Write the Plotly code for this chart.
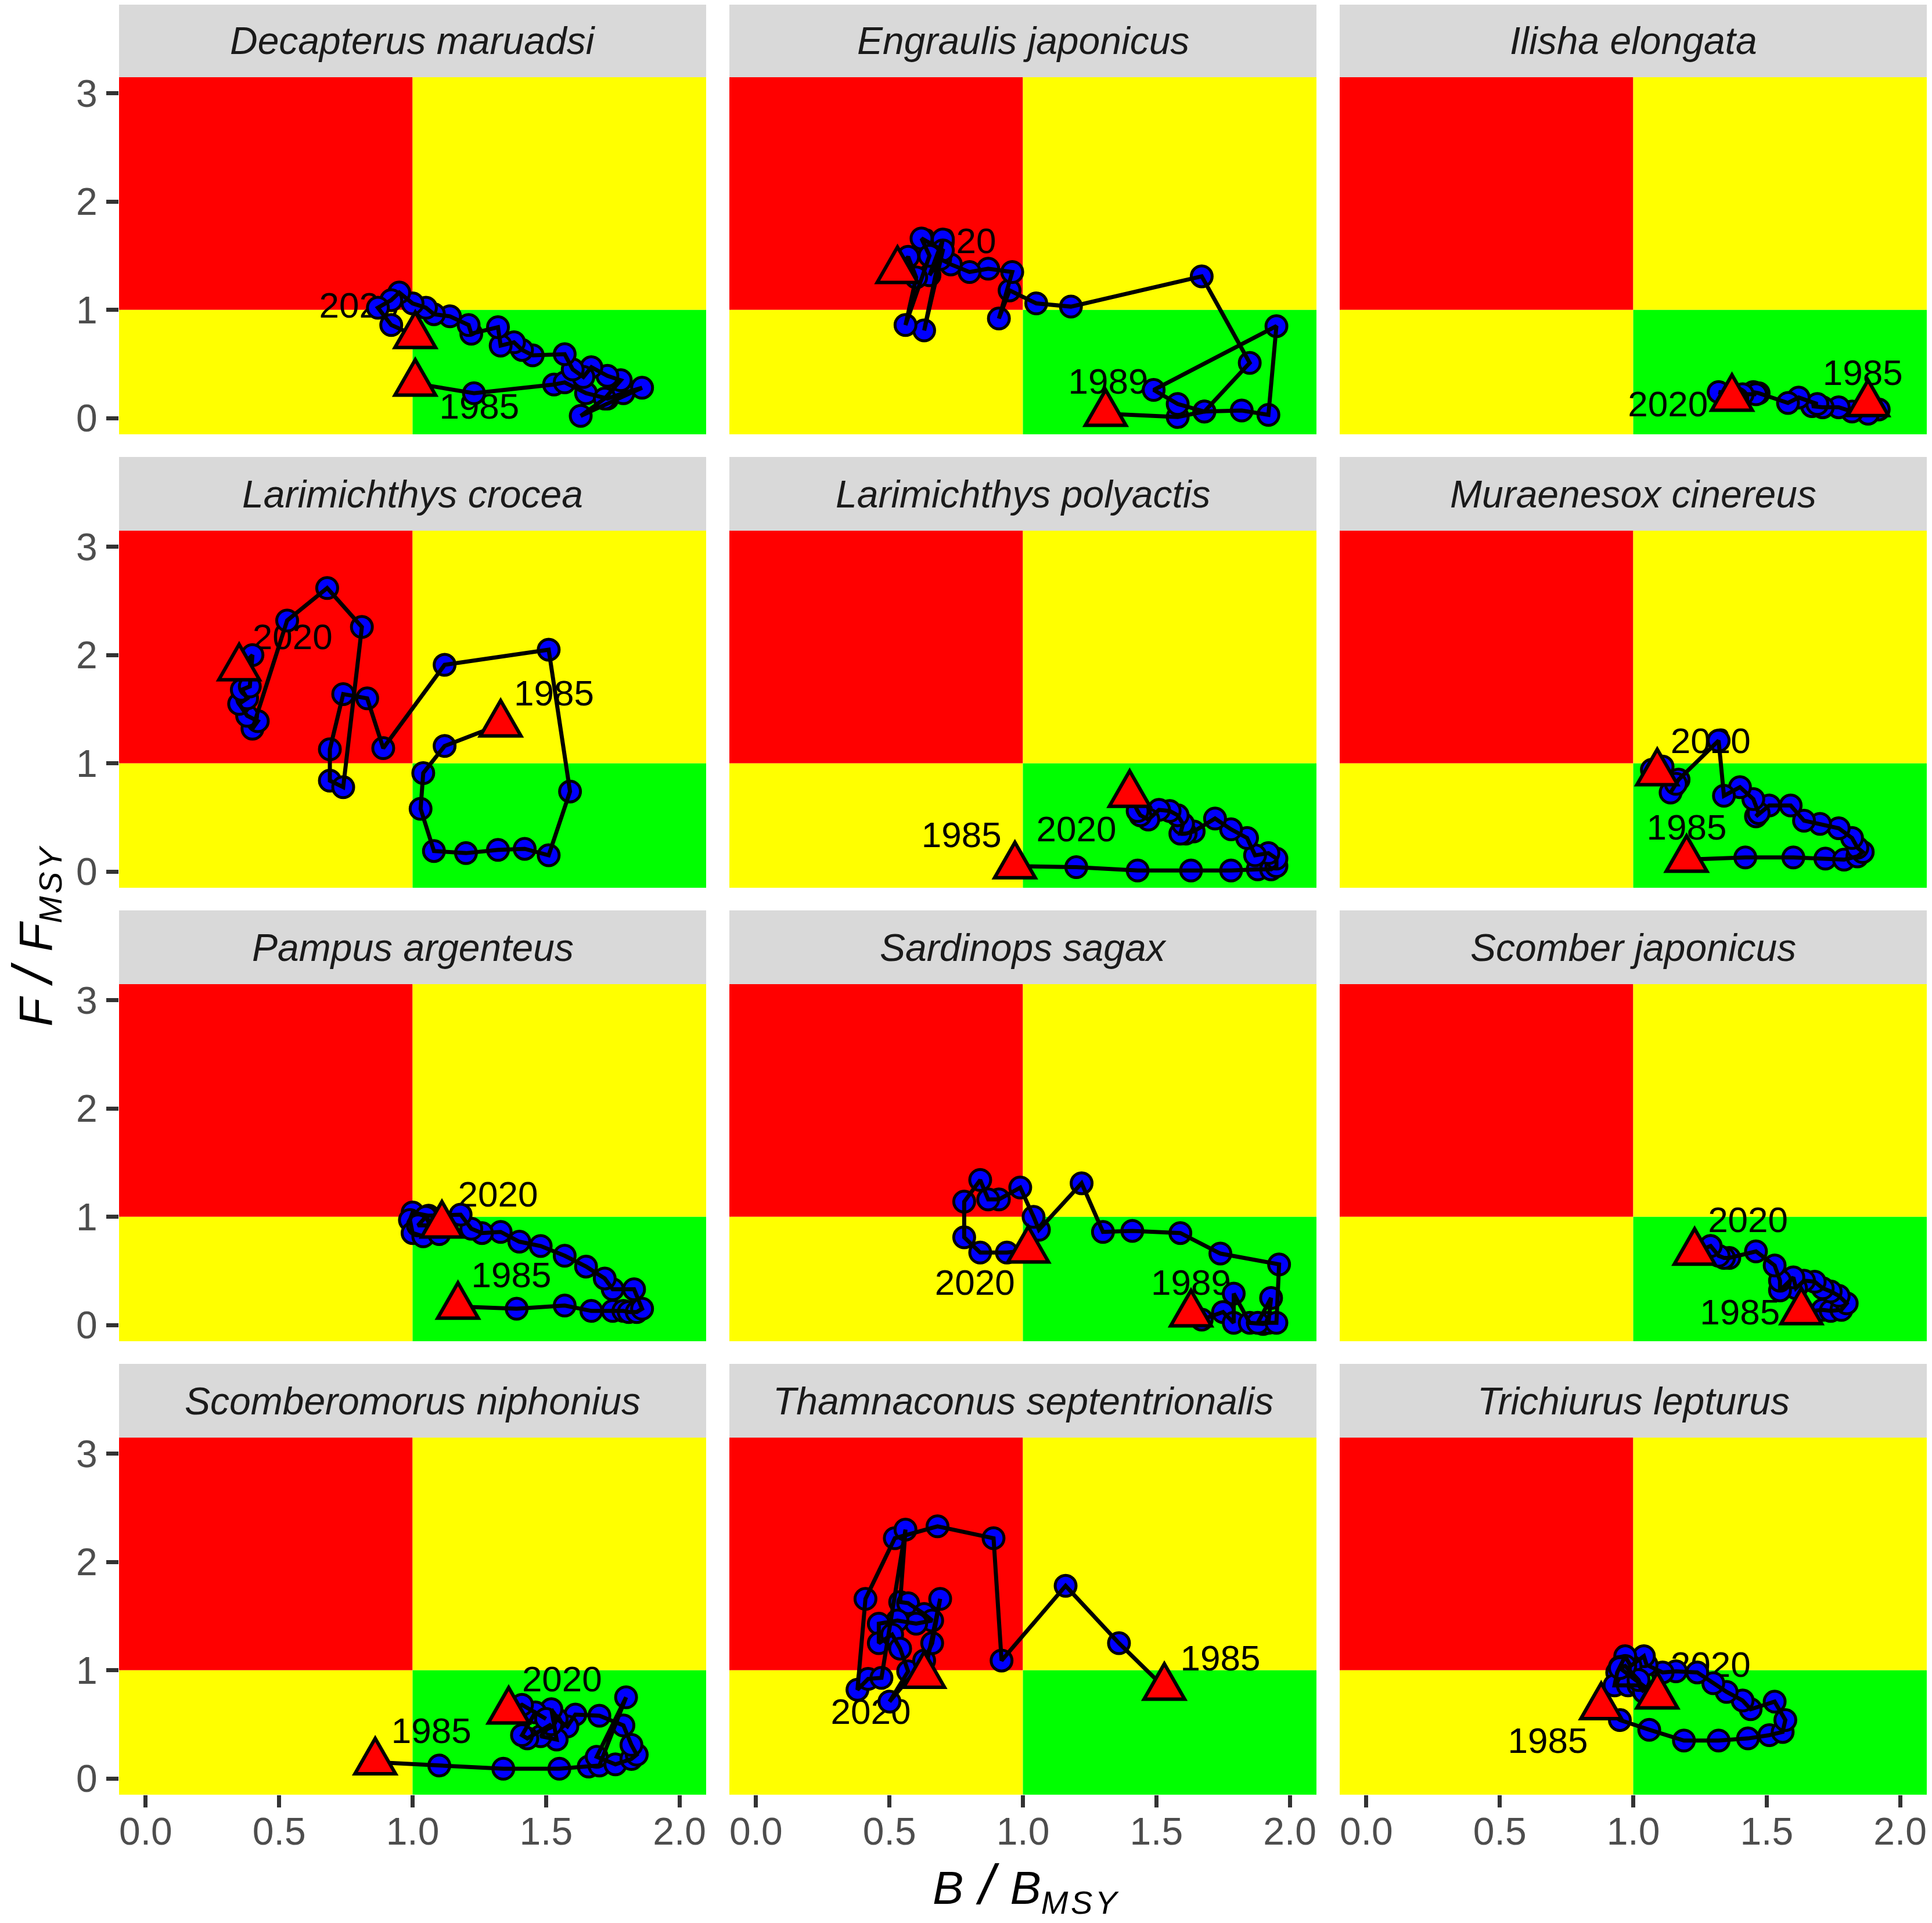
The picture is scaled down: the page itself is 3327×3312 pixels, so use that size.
import plotly.graph_objects as go
from plotly.subplots import make_subplots

# values, B/Bmsy and F/Fmsy per species
species = ["Decapterus maruadsi", "Engraulis japonicus", "Ilisha elongata",
           "Larimichthys crocea", "Larimichthys polyactis", "Muraenesox cinereus",
           "Pampus argenteus", "Sardinops sagax", "Scomber japonicus",
           "Scomberomorus niphonius", "Thamnaconus septentrionalis", "Trichiurus lepturus"]

decapterus_b = [1.01, 1.23, 1.53, 1.57, 1.65, 1.73, 1.79, 1.86, 1.63, 1.72, 1.78, 1.73, 1.67, 1.64, 1.60, 1.57,
                1.45, 1.41, 1.38, 1.33, 1.32, 1.22, 1.21, 1.14, 1.08, 1.05, 1.00, 0.95, 0.92, 0.87, 0.92, 1.01]
decapterus_f = [0.32, 0.23, 0.31, 0.33, 0.23, 0.18, 0.23, 0.28, 0.02, 0.18, 0.35, 0.39, 0.47, 0.38, 0.45, 0.59,
                0.58, 0.63, 0.70, 0.67, 0.84, 0.78, 0.86, 0.94, 0.96, 1.02, 1.06, 1.16, 1.09, 1.02, 0.86, 0.76]

engraulis_b = [1.31, 1.58, 1.68, 1.82, 1.92, 1.95, 1.49, 1.58, 1.68, 1.85, 1.67, 1.18, 1.05, 0.95, 0.91, 0.96,
               0.87, 0.80, 0.73, 0.69, 0.65, 0.70, 0.63, 0.70, 0.62, 0.65, 0.56, 0.60, 0.57, 0.53]
engraulis_f = [0.04, 0.01, 0.06, 0.07, 0.03, 0.85, 0.26, 0.13, 0.06, 0.51, 1.31, 1.03, 1.06, 1.18, 0.92, 1.35,
               1.38, 1.35, 1.42, 1.47, 1.32, 1.65, 0.81, 1.55, 1.66, 1.50, 0.86, 1.30, 1.49, 1.36]

ilisha_b = [1.88, 1.92, 1.88, 1.82, 1.77, 1.71, 1.67, 1.69, 1.62, 1.58, 1.47, 1.45, 1.46, 1.41, 1.32, 1.39, 1.37]
ilisha_f = [0.13, 0.08, 0.04, 0.06, 0.10, 0.10, 0.11, 0.13, 0.19, 0.14, 0.23, 0.24, 0.22, 0.22, 0.24, 0.18, 0.18]

crocea_b = [1.33, 1.12, 1.04, 1.03, 1.08, 1.20, 1.32, 1.42, 1.51, 1.59, 1.51, 1.12, 0.89, 0.83, 0.74, 0.69, 0.69,
            0.74, 0.81, 0.68, 0.53, 0.40, 0.42, 0.38, 0.35, 0.38, 0.36, 0.39, 0.40, 0.35]
crocea_f = [1.36, 1.16, 0.91, 0.58, 0.19, 0.17, 0.20, 0.21, 0.15, 0.74, 2.05, 1.91, 1.14, 1.60, 1.64, 1.13, 0.84,
            0.78, 2.26, 2.62, 2.32, 1.32, 1.39, 1.44, 1.55, 1.60, 1.68, 1.71, 2.00, 1.88]

polyactis_b = [0.97, 1.20, 1.43, 1.63, 1.78, 1.88, 1.93, 1.95, 1.95, 1.92, 1.87, 1.84, 1.78, 1.72, 1.64, 1.61,
               1.59, 1.60, 1.58, 1.55, 1.51, 1.47, 1.44, 1.43, 1.40]
polyactis_f = [0.05, 0.04, 0.01, 0.01, 0.01, 0.02, 0.02, 0.05, 0.12, 0.17, 0.15, 0.31, 0.39, 0.49, 0.37, 0.35,
               0.35, 0.44, 0.52, 0.56, 0.57, 0.48, 0.52, 0.56, 0.71]

muraenesox_b = [1.20, 1.42, 1.60, 1.72, 1.79, 1.84, 1.86, 1.84, 1.82, 1.77, 1.70, 1.64, 1.59, 1.51, 1.46, 1.47,
                1.45, 1.40, 1.34, 1.32, 1.17, 1.15, 1.14, 1.16, 1.11, 1.07, 1.09]
muraenesox_f = [0.11, 0.13, 0.13, 0.12, 0.11, 0.14, 0.18, 0.22, 0.31, 0.40, 0.44, 0.47, 0.61, 0.61, 0.51, 0.54,
                0.67, 0.78, 0.70, 1.21, 0.85, 0.78, 0.73, 0.81, 0.97, 0.94, 0.91]

pampus_b = [1.17, 1.39, 1.57, 1.67, 1.75, 1.79, 1.81, 1.84, 1.86, 1.83, 1.75, 1.72, 1.65, 1.57, 1.48, 1.40, 1.33,
            1.26, 1.22, 1.18, 1.06, 1.00, 0.99, 1.00, 1.04, 1.10, 1.05, 1.02, 1.11]
pampus_f = [0.17, 0.15, 0.18, 0.13, 0.13, 0.13, 0.12, 0.12, 0.15, 0.33, 0.33, 0.43, 0.54, 0.64, 0.73, 0.77, 0.86,
            0.85, 0.89, 1.02, 1.01, 1.04, 0.97, 0.85, 0.82, 0.84, 1.00, 0.92, 0.92]

sardinops_b = [1.63, 1.67, 1.75, 1.79, 1.79, 1.85, 1.90, 1.92, 1.93, 1.88, 1.95, 1.96, 1.74, 1.59, 1.41, 1.30,
               1.22, 1.06, 1.04, 0.99, 0.91, 0.87, 0.84, 0.78, 0.78, 0.84, 0.94, 1.02]
sardinops_f = [0.10, 0.05, 0.12, 0.02, 0.29, 0.02, 0.01, 0.02, 0.25, 0.02, 0.02, 0.56, 0.66, 0.85, 0.87, 0.86,
               1.31, 0.88, 1.00, 1.27, 1.16, 1.16, 1.34, 1.14, 0.81, 0.67, 0.67, 0.69]

scomber_b = [1.63, 1.71, 1.74, 1.78, 1.80, 1.77, 1.74, 1.71, 1.68, 1.64, 1.61, 1.60, 1.55, 1.55, 1.53, 1.46,
             1.36, 1.34, 1.32, 1.29, 1.29, 1.23]
scomber_f = [0.12, 0.14, 0.13, 0.14, 0.20, 0.27, 0.31, 0.34, 0.40, 0.41, 0.34, 0.44, 0.32, 0.41, 0.55, 0.68,
             0.62, 0.62, 0.64, 0.73, 0.73, 0.67]

niphonius_b = [0.86, 1.10, 1.34, 1.55, 1.66, 1.70, 1.80, 1.69, 1.76, 1.82, 1.84, 1.82, 1.79, 1.70, 1.61, 1.58,
               1.54, 1.52, 1.54, 1.48, 1.52, 1.43, 1.41, 1.46, 1.50, 1.41, 1.36]
niphonius_f = [0.15, 0.12, 0.09, 0.09, 0.11, 0.12, 0.75, 0.20, 0.13, 0.18, 0.22, 0.31, 0.49, 0.58, 0.59, 0.48,
               0.55, 0.64, 0.36, 0.39, 0.50, 0.37, 0.40, 0.61, 0.55, 0.68, 0.62]

thamnaconus_b = [1.53, 1.36, 1.16, 0.92, 0.89, 0.68, 0.52, 0.41, 0.38, 0.42, 0.47, 0.56, 0.54, 0.57, 0.63, 0.66,
                 0.60, 0.53, 0.46, 0.46, 0.51, 0.54, 0.57, 0.50, 0.63, 0.66, 0.69, 0.63]
thamnaconus_f = [0.84, 1.25, 1.78, 1.09, 2.22, 2.33, 2.22, 1.66, 0.82, 0.92, 0.93, 2.30, 1.63, 1.62, 1.52, 1.46,
                 1.43, 1.46, 1.43, 1.25, 1.33, 1.20, 0.99, 0.71, 1.09, 1.25, 1.66, 0.95]

trichiurus_b = [0.88, 0.95, 1.06, 1.19, 1.32, 1.43, 1.51, 1.56, 1.57, 1.53, 1.44, 1.41, 1.35, 1.30, 1.24, 1.16, 1.11,
                1.05, 1.04, 0.99, 0.97, 0.95, 0.94, 0.93, 0.98, 1.02, 1.04, 1.02, 0.97, 0.95, 1.09]
trichiurus_f = [0.66, 0.54, 0.45, 0.35, 0.35, 0.37, 0.40, 0.43, 0.54, 0.71, 0.64, 0.72, 0.80, 0.88, 0.98, 0.99, 0.98,
                1.05, 1.13, 1.04, 1.13, 1.03, 0.98, 0.86, 0.86, 0.86, 0.80, 0.91, 1.04, 1.02, 0.76]

series_b = [decapterus_b, engraulis_b, ilisha_b, crocea_b, polyactis_b, muraenesox_b,
            pampus_b, sardinops_b, scomber_b, niphonius_b, thamnaconus_b, trichiurus_b]
series_f = [decapterus_f, engraulis_f, ilisha_f, crocea_f, polyactis_f, muraenesox_f,
            pampus_f, sardinops_f, scomber_f, niphonius_f, thamnaconus_f, trichiurus_f]

# year labels: first year, then 2020
first_year = ["1985", "1989", "1985", "1985", "1985", "1985", "1985", "1989", "1985", "1985", "1985", "1985"]
first_label_b = [1.25, 1.32, 1.86, 1.53, 0.77, 1.20, 1.37, 1.63, 1.40, 1.07, 1.74, 0.68]
first_label_f = [0.08, 0.31, 0.39, 1.62, 0.31, 0.38, 0.43, 0.36, 0.09, 0.41, 1.08, 0.32]
last_year = "2020"
last_label_b = [0.80, 0.75, 1.13, 0.55, 1.20, 1.29, 1.32, 0.82, 1.43, 1.56, 0.43, 1.29]
last_label_f = [1.01, 1.61, 0.10, 2.14, 0.36, 1.18, 1.18, 0.36, 0.94, 0.89, 0.59, 1.02]

x_ticks = [0, 0.5, 1, 1.5, 2]
x_tick_labels = ["0.0", "0.5", "1.0", "1.5", "2.0"]
y_ticks = [0, 1, 2, 3]
y_tick_labels = ["0", "1", "2", "3"]
x_range = [-0.1, 2.1]
y_range = [-0.15, 3.15]
zones = [  # x0, x1, y0, y1, colour
    (x_range[0], 1, 1, y_range[1], "#FF0000"),
    (1, x_range[1], 1, y_range[1], "#FFFF00"),
    (x_range[0], 1, y_range[0], 1, "#FFFF00"),
    (1, x_range[1], y_range[0], 1, "#00FF00"),
]

FONT = "Liberation Sans"
# the page body has an 8px margin, so the figure is 8px short on both sides
WIDTH, HEIGHT = 3319, 3304
TRIANGLE = "M -35,-20 L 35,-20 L 0,41 Z"  # pixels around the anchor point

fig = make_subplots(rows=4, cols=3,
                    horizontal_spacing=40 / 3113,
                    vertical_spacing=166 / 2958)

for i, name in enumerate(species):
    row, col = i // 3 + 1, i % 3 + 1
    n = "" if i == 0 else str(i + 1)
    b, f = series_b[i], series_f[i]

    for x0, x1, y0, y1, colour in zones:
        fig.add_shape(type="rect", xref=f"x{n}", yref=f"y{n}", x0=x0, x1=x1, y0=y0, y1=y1,
                      fillcolor=colour, line_width=0, layer="below")

    # grey strip over the panel
    fig.add_shape(type="rect", xref=f"x{n} domain", yref=f"y{n} domain", x0=0, x1=1, y0=1, y1=1 + 127 / 615,
                  fillcolor="#D9D9D9", line_width=0, layer="below")
    fig.add_annotation(xref=f"x{n} domain", yref=f"y{n} domain", x=0.5, y=1 + 63 / 615, showarrow=False,
                       xanchor="center", yanchor="middle",
                       text=f"<i>{name}</i>", font=dict(family=FONT, size=66, color="#1A1A1A"))

    # text under the points, line on top of the points
    fig.add_trace(go.Scatter(x=[first_label_b[i], last_label_b[i]], y=[first_label_f[i], last_label_f[i]],
                             mode="text", text=[first_year[i], last_year],
                             textfont=dict(family=FONT, size=62, color="black")), row=row, col=col)
    fig.add_trace(go.Scatter(x=b, y=f, mode="markers",
                             marker=dict(size=36, color="#0000FF", line=dict(color="black", width=5))),
                  row=row, col=col)
    fig.add_trace(go.Scatter(x=b, y=f, mode="lines", line=dict(color="black", width=7)), row=row, col=col)

    # first and last year triangles, plotly's own triangle-up is too flat
    for k in (0, -1):
        fig.add_shape(type="path", path=TRIANGLE, xref=f"x{n}", yref=f"y{n}",
                      xsizemode="pixel", ysizemode="pixel", xanchor=b[k], yanchor=f[k],
                      fillcolor="#FF0000", line=dict(color="black", width=6), layer="above")

    fig.update_xaxes(range=x_range, showgrid=False, zeroline=False, showline=False,
                     tickvals=x_ticks, ticktext=x_tick_labels,
                     showticklabels=row == 4, ticks="outside" if row == 4 else "",
                     ticklen=21, tickwidth=7, tickcolor="#333333", ticklabelstandoff=-15,
                     tickfont=dict(family=FONT, size=66, color="#4D4D4D"), row=row, col=col)
    fig.update_yaxes(range=y_range, showgrid=False, zeroline=False, showline=False,
                     tickvals=y_ticks, ticktext=y_tick_labels,
                     showticklabels=col == 1, ticks="outside" if col == 1 else "",
                     ticklen=21, tickwidth=7, tickcolor="#333333", ticklabelstandoff=2,
                     tickfont=dict(family=FONT, size=66, color="#4D4D4D"), row=row, col=col)

# axis titles
slash = '<span style="font-size:96px"> / </span>'
fig.add_annotation(xref="paper", yref="paper", x=(1766 - 205) / 3113, y=-(3250 - 3091) / 2958, showarrow=False,
                   xanchor="center", yanchor="middle",
                   text=f"<i>B{slash}B<sub>M\u200aS\u200aY</sub></i>", font=dict(family=FONT, size=80, color="black"))
fig.add_annotation(xref="paper", yref="paper", x=-(205 - 60) / 3113, y=(3091 - 1612) / 2958, showarrow=False,
                   xanchor="center", yanchor="middle",
                   textangle=-90, text=f"<i>F{slash}F<sub>M\u200aS\u200aY</sub></i>",
                   font=dict(family=FONT, size=80, color="black"))

fig.update_layout(width=WIDTH, height=HEIGHT, showlegend=False, hovermode=False,
                  plot_bgcolor="white", paper_bgcolor="white",
                  margin=dict(l=197, r=9, t=125, b=221))

fig.write_html("out.html")
